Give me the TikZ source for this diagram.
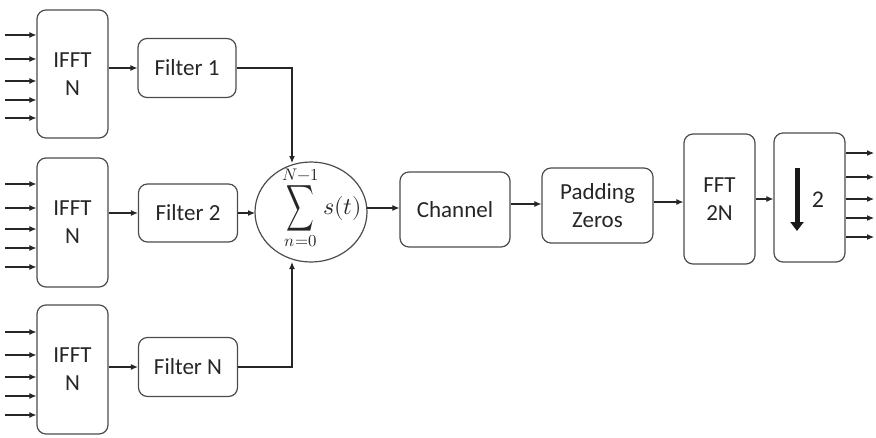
\documentclass[tikz,border=0pt]{standalone}
\usepackage{fontspec}
\usepackage{unicode-math}
\setmainfont{Carlito}
\setmathfont{Latin Modern Math}
\usepackage{graphicx}
\usetikzlibrary{arrows.meta}
\begin{document}
\begin{tikzpicture}[x=1pt,y=-1pt,
  blk/.style={draw=black!70,line width=1.2pt,rounded corners=9pt,inner sep=0pt,font=\fontsize{23}{28}\selectfont,text=black!85,align=center},
  conn/.style={draw=black!85,line width=1.1pt,-{Latex[length=7pt,width=6pt]}},
  line/.style={draw=black!85,line width=1.1pt}]
\useasboundingbox (0,0) rectangle (876,437);
% IFFT blocks
\node[blk,minimum width=71pt,minimum height=128pt] (i1) at (72.5,74) {IFFT\\N};
\node[blk,minimum width=71pt,minimum height=129pt] (i2) at (72.5,222.5) {IFFT\\N};
\node[blk,minimum width=71pt,minimum height=129pt] (i3) at (72.5,369.5) {IFFT\\N};
% input arrows
\foreach \y [count=\k] in {35,59,81,100,118} {\coordinate (a\k) at (5,\y); \draw[conn] (a\k) -- (a\k -| i1.west);}
\foreach \y [count=\k] in {184,208,229,248,267} {\coordinate (b\k) at (5,\y); \draw[conn] (b\k) -- (b\k -| i2.west);}
\foreach \y [count=\k] in {332,355,377,396,415} {\coordinate (c\k) at (5,\y); \draw[conn] (c\k) -- (c\k -| i3.west);}
% Filters
\node[blk,minimum width=98pt,minimum height=59pt] (f1) at (187,68) {Filter 1};
\node[blk,minimum width=99pt,minimum height=58pt] (f2) at (188,213) {Filter 2};
\node[blk,minimum width=99pt,minimum height=59pt] (f3) at (188,367) {Filter N};
\draw[conn] (i1.east |- f1) -- (f1.west);
\draw[conn] (i2.east |- f2) -- (f2.west);
\draw[conn] (i3.east |- f3) -- (f3.west);
% sum
\draw[draw=black!70,line width=1.2pt] (311,212) ellipse [x radius=56pt,y radius=50pt];
\node[inner sep=0pt,font=\fontsize{24}{28}\selectfont,text=black!85] (sum) at (322,208)
  {$\displaystyle\mathop{\vcenter{\hbox{\scalebox{0.8}[1.35]{$\displaystyle\sum$}}}}\limits_{n=0}^{N-1} s(t)$};
\coordinate (st) at (292,163);
\coordinate (sb) at (292,262);
\coordinate (sw) at (255,213);
\coordinate (se) at (367,208);
\draw[conn] (f1.east) -| (st);
\draw[conn] (f3.east) -| (sb);
\draw[conn] (f2.east) -- (sw);
% Channel etc
\node[blk,minimum width=110pt,minimum height=75pt] (ch) at (455,209.5) {Channel};
\node[blk,minimum width=111pt,minimum height=75pt] (pz) at (597.5,205.5) {Padding\\Zeros};
\node[blk,minimum width=71pt,minimum height=130pt] (fft) at (719.5,199) {FFT\\2N};
\node[blk,minimum width=71pt,minimum height=129pt] (ds) at (809.5,197.5) {};
\draw[conn] (se) -- (ch.west |- se);
\draw[conn] (ch.east |- 0,204) -- (pz.west |- 0,204);
\draw[conn] (pz.east |- 0,202) -- (fft.west |- 0,202);
\draw[conn] (fft.east |- 0,199) -- (ds.west |- 0,199);
% downsample arrow
\coordinate (dt) at (797,168);
\coordinate (db) at (797,231);
\draw[line width=5pt,black!90,-{Triangle[length=9pt,width=13pt]}] (dt) -- (db);
\node[font=\fontsize{24}{28}\selectfont,text=black!85,inner sep=0pt] (two) at (818,200) {2};
% outputs
\foreach \y [count=\k] in {153,177,199,218,237} {\coordinate (o\k) at (874,\y); \draw[conn] (ds.east |- o\k) -- (o\k);}
\end{tikzpicture}
\end{document}
